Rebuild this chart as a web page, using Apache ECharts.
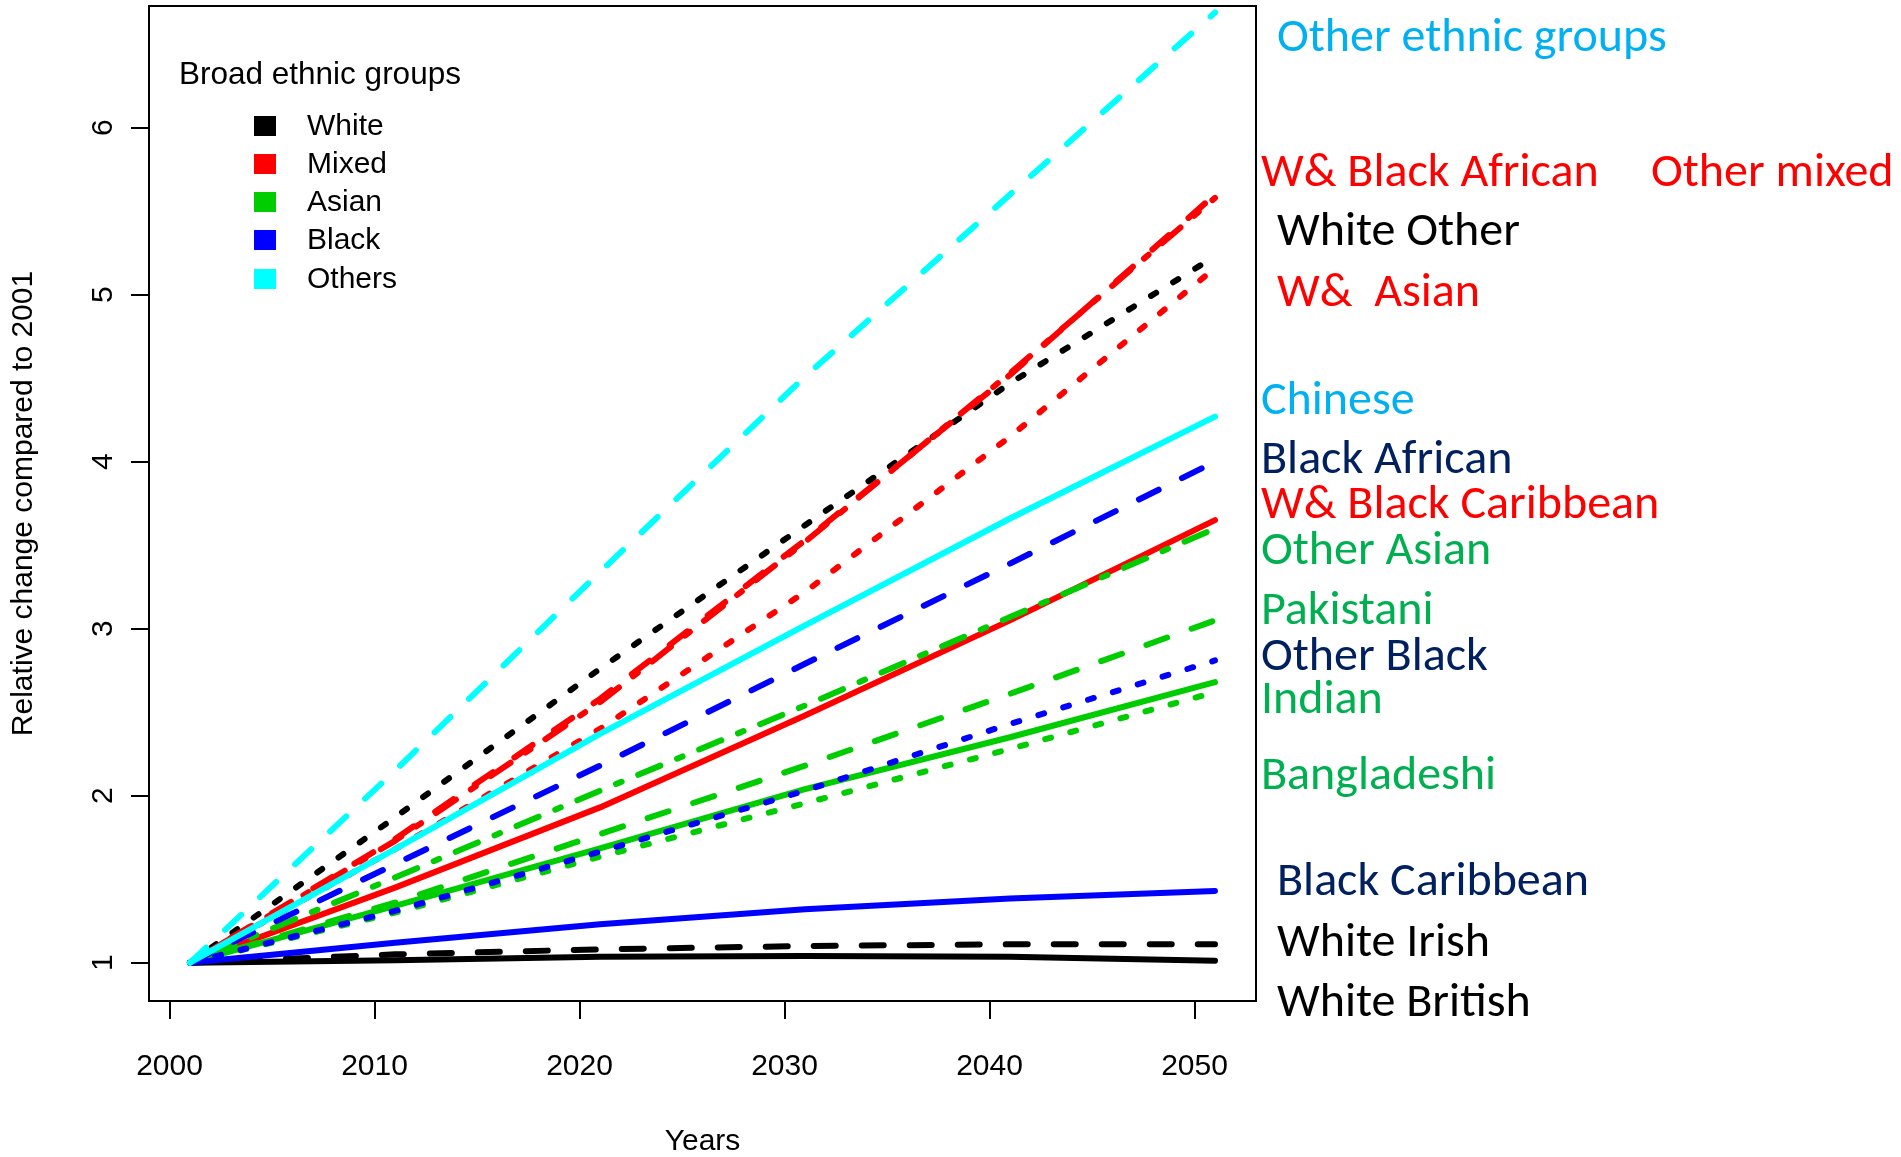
<!DOCTYPE html>
<html>
<head>
<meta charset="utf-8">
<script src="https://cdn.jsdelivr.net/npm/echarts@6/dist/echarts.min.js"></script>
<style>
html,body{margin:0;padding:0;background:#fff;}
#chart{width:1901px;height:1157px;}
</style>
</head>
<body>
<div id="chart"></div>
<script>
// ---- data ----
const years = [2001, 2011, 2021, 2031, 2041, 2051];
const xTicks = [2000, 2010, 2020, 2030, 2040, 2050];
const yTicks = [1, 2, 3, 4, 5, 6];

const whiteBritish   = [1, 1.015, 1.035, 1.04, 1.036, 1.012];
const whiteIrish     = [1, 1.05, 1.08, 1.10, 1.11, 1.11];
const whiteOther     = [1, 1.87, 2.76, 3.62, 4.47, 5.23];
const wBlackCarib    = [1, 1.45, 1.93, 2.48, 3.05, 3.65];
const wBlackAfrican  = [1, 1.74, 2.58, 3.53, 4.52, 5.60];
const wAsian         = [1, 1.68, 2.40, 3.22, 4.15, 5.16];
const otherMixed     = [1, 1.73, 2.56, 3.52, 4.53, 5.58];
const indian         = [1, 1.34, 1.685, 2.04, 2.35, 2.68];
const pakistani      = [1, 1.36, 1.77, 2.18, 2.61, 3.05];
const bangladeshi    = [1, 1.30, 1.635, 1.955, 2.28, 2.62];
const otherAsian     = [1, 1.51, 2.03, 2.54, 3.07, 3.60];
const blackCaribbean = [1, 1.12, 1.23, 1.32, 1.385, 1.43];
const blackAfrican   = [1, 1.59, 2.18, 2.79, 3.39, 4.00];
const otherBlack     = [1, 1.31, 1.665, 2.03, 2.43, 2.81];
const chinese        = [1, 1.68, 2.37, 3.02, 3.66, 4.27];
const otherEthnic    = [1, 2.15, 3.34, 4.51, 5.60, 6.69];

const legendTitle = 'Broad ethnic groups';
const legendGroups = ['White', 'Mixed', 'Asian', 'Black', 'Others'];

const rightLabels = [
  'Other ethnic groups', 'W& Black African', 'Other mixed', 'White Other', 'W&  Asian',
  'Chinese', 'Black African', 'W& Black Caribbean', 'Other Asian', 'Pakistani',
  'Other Black', 'Indian', 'Bangladeshi', 'Black Caribbean', 'White Irish', 'White British'
];

// ---- styles ----
const C = {White:'#000000', Mixed:'#ff0000', Asian:'#00cd00', Black:'#0000ff', Others:'#00ffff'};
const DASH = {solid:'solid', dashed:[22,26], dotted:[6,20], dotdash:[6,18,24,18]};

const seriesDefs = [
  ['White British', whiteBritish, 'White', 'solid'],
  ['White Irish', whiteIrish, 'White', 'dashed'],
  ['White Other', whiteOther, 'White', 'dotted'],
  ['W& Black Caribbean', wBlackCarib, 'Mixed', 'solid'],
  ['W& Black African', wBlackAfrican, 'Mixed', 'dashed'],
  ['W& Asian', wAsian, 'Mixed', 'dotted'],
  ['Other mixed', otherMixed, 'Mixed', 'dotdash'],
  ['Indian', indian, 'Asian', 'solid'],
  ['Pakistani', pakistani, 'Asian', 'dashed'],
  ['Bangladeshi', bangladeshi, 'Asian', 'dotted'],
  ['Other Asian', otherAsian, 'Asian', 'dotdash'],
  ['Black Caribbean', blackCaribbean, 'Black', 'solid'],
  ['Black African', blackAfrican, 'Black', 'dashed'],
  ['Other Black', otherBlack, 'Black', 'dotted'],
  ['Chinese', chinese, 'Others', 'solid'],
  ['Other ethnic groups', otherEthnic, 'Others', 'dashed']
];

const series = seriesDefs.map(function (d) {
  return {
    name: d[0], type: 'line', symbol: 'none', silent: true,
    data: years.map(function (y, i) { return [y, d[1][i]]; }),
    lineStyle: {color: C[d[2]], width: 6, type: DASH[d[3]], cap: 'round', join: 'round'}
  };
});

// label layout (pixel positions and colours)
const LB = '#00b0f0', RD = '#ff0000', BK = '#000000', NV = '#002060', GR = '#00b050';
const labelLayout = [
  [1277, 39, LB], [1261, 174, RD], [1651, 174, RD], [1277, 233, BK], [1277, 294, RD],
  [1261, 402, LB], [1261, 461, NV], [1261, 506, RD], [1261, 552, GR], [1261, 612, GR],
  [1261, 658, NV], [1261, 701, GR], [1261, 777, GR], [1277, 883, NV], [1277, 944, BK], [1277, 1004, BK]
];

const FONT_AX = '"Liberation Sans", Arial, sans-serif';
const graphics = [];
graphics.push({type:'text', x:179, y:75, style:{text:legendTitle, font:'31.5px ' + FONT_AX, fill:'#000', verticalAlign:'middle', align:'left'}});
const rowY = [127, 165, 203, 241, 280];
legendGroups.forEach(function (g, i) {
  graphics.push({type:'rect', shape:{x:254, y:rowY[i]-11, width:22, height:20}, style:{fill:C[g]}});
  graphics.push({type:'text', x:307, y:rowY[i], style:{text:g, font:'30px ' + FONT_AX, fill:'#000', verticalAlign:'middle', align:'left'}});
});
rightLabels.forEach(function (t, i) {
  const p = labelLayout[i];
  graphics.push({type:'text', x:p[0], y:p[1], style:{text:t, font:'48px Carlito, Lato, sans-serif', fill:p[2], verticalAlign:'middle', align:'left'}});
});

const chart = echarts.init(document.getElementById('chart'), null, {renderer:'canvas'});
chart.setOption({
  backgroundColor: '#ffffff',
  animation: false,
  grid: {left:149, right:645, top:6, bottom:156, containLabel:false, outerBoundsMode:'none',
         show:true, borderColor:'#000', borderWidth:2, backgroundColor:'transparent'},
  xAxis: {
    type:'value', min:1999, max:2053,
    name:'Years', nameLocation:'middle', nameGap:126,
    nameTextStyle:{fontFamily:FONT_AX, fontSize:30, color:'#000'},
    axisLine:{show:false}, splitLine:{show:false},
    axisTick:{show:true, length:18, lineStyle:{color:'#000', width:2}, customValues:xTicks},
    axisLabel:{customValues:xTicks, formatter:function (v) { return String(v); }, fontFamily:FONT_AX, fontSize:30, color:'#000', margin:51}
  },
  yAxis: {
    type:'value', min:0.7707, max:6.729,
    name:'Relative change compared to 2001', nameLocation:'middle', nameGap:110, nameRotate:90,
    nameTextStyle:{fontFamily:FONT_AX, fontSize:30, color:'#000'},
    axisLine:{show:false}, splitLine:{show:false},
    axisTick:{show:true, length:18, lineStyle:{color:'#000', width:2}, customValues:yTicks},
    axisLabel:{customValues:yTicks, rotate:90, fontFamily:FONT_AX, fontSize:30, color:'#000', margin:30}
  },
  series: series,
  graphic: graphics
});
</script>
</body>
</html>
